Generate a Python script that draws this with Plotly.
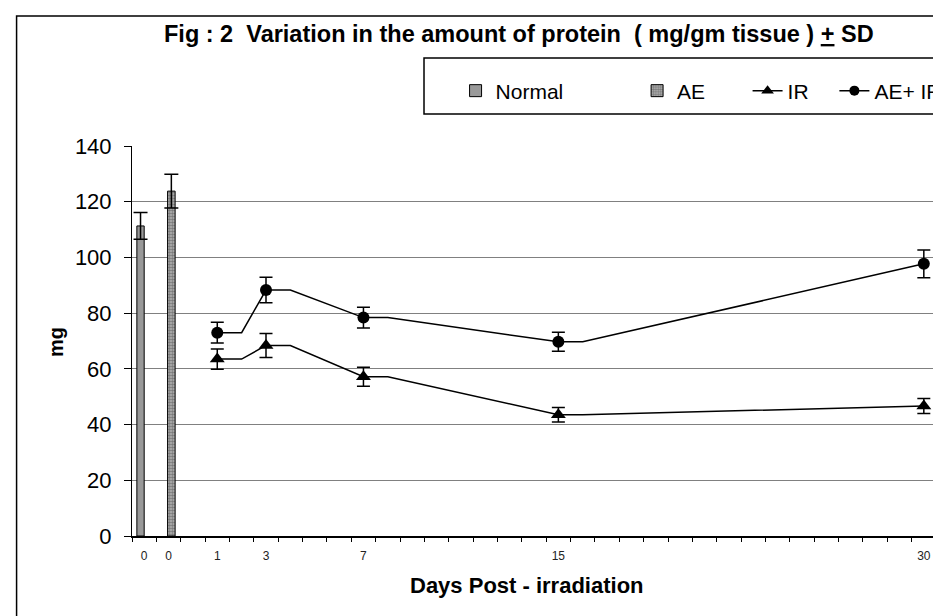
import plotly.graph_objects as go

# ---- data ----
line_days = [1, 3, 7, 15, 30]
ir_vals = [63.5, 68.4, 57.2, 43.5, 46.7]
ir_sd = [3.6, 4.3, 3.4, 2.6, 2.7]
aeir_vals = [73.0, 88.3, 78.4, 69.7, 97.7]
aeir_sd = [3.7, 4.6, 3.7, 3.4, 5.0]

normal_pos = [-2]
normal_vals = [111.3]
normal_sd = [4.8]
ae_pos = [-1]
ae_vals = [123.8]
ae_sd = [6.1]

tick_pos = [-2, -1, 1, 3, 7, 15, 30]
tick_text = ["0", "0", "1", "3", "7", "15", "30"]

FONT = "Liberation Sans, Arial, sans-serif"

# geometry helpers (pixels -> paper)
W, H = 941, 616
ML, MR, MT, MB = 124, 2, 138, 88
PW, PH = W - ML - MR, H - MT - MB
def px(x):
    return (x - ML) / PW
def py(y):
    return (H - MB - y) / PH

def stepped(days, vals):
    xs, ys = [], []
    for i, (d, v) in enumerate(zip(days, vals)):
        xs.append(d); ys.append(v)
        if i < len(days) - 1:
            xs.append(d + 1); ys.append(v)
    return xs, ys

fig = go.Figure()

fig.add_trace(go.Bar(
    x=normal_pos, y=normal_vals, name="Normal", width=0.3, offset=-0.3,
    marker=dict(color="#999999", line=dict(color="black", width=1)),
    error_y=dict(type="data", array=normal_sd, color="black", thickness=1.5, width=7),
    legend="legend", cliponaxis=False,
))
fig.add_trace(go.Bar(
    x=ae_pos, y=ae_vals, name="AE", width=0.31, offset=-0.04,
    marker=dict(color="#a8a8a8", line=dict(color="black", width=1),
                pattern=dict(shape=".", fgcolor="#404040", bgcolor="#b4b4b4", size=3, solidity=0.55)),
    error_y=dict(type="data", array=ae_sd, color="black", thickness=1.5, width=7),
    legend="legend2", cliponaxis=False,
))

for name, vals, sd, sym, size, leg in [
    ("IR", ir_vals, ir_sd, "triangle-up", 13, "legend3"),
    ("AE+ IR", aeir_vals, aeir_sd, "circle", 12, "legend4"),
]:
    sx, sy = stepped(line_days, vals)
    fig.add_trace(go.Scatter(
        x=sx, y=sy, mode="lines", line=dict(color="black", width=1.5),
        showlegend=False, hoverinfo="skip", legendgroup=name, cliponaxis=False,
    ))
    fig.add_trace(go.Scatter(
        x=line_days, y=vals, mode="markers", name=name,
        marker=dict(symbol=sym, size=size, color="black"),
        error_y=dict(type="data", array=sd, color="black", thickness=1.5, width=6.5),
        showlegend=False, legendgroup=name, cliponaxis=False,
    ))
    # legend entry (line + marker glyph), drawn only in the legend
    fig.add_trace(go.Scatter(
        x=[None], y=[None], mode="lines+markers", name=name,
        line=dict(color="black", width=1.5),
        marker=dict(symbol=sym, size=size - 2, color="black"),
        legend=leg, legendgroup=name,
    ))

leg_common = dict(orientation="h", xanchor="left", yanchor="middle",
                  bgcolor="rgba(0,0,0,0)", borderwidth=0,
                  font=dict(family=FONT, size=21, color="black"))
LEG_Y = py(83)

fig.update_layout(
    width=W, height=H,
    margin=dict(l=ML, r=MR, t=MT, b=MB),
    paper_bgcolor="white", plot_bgcolor="white",
    barmode="overlay",
    showlegend=True,
    legend=dict(x=px(452), y=LEG_Y, **leg_common),
    legend2=dict(x=px(636), y=LEG_Y, **leg_common),
    legend3=dict(x=px(748), y=LEG_Y, **leg_common),
    legend4=dict(x=px(836), y=LEG_Y, **leg_common),
    xaxis=dict(
        range=[-2.5, 30.5], tickmode="array", tickvals=tick_pos, ticktext=tick_text,
        ticks="", showgrid=False, zeroline=False,
        showline=True, linecolor="black", linewidth=1.5,
        tickfont=dict(family=FONT, size=12, color="#222"),
        ticklabelstandoff=8, ticklabeloverflow="allow",
        minor=dict(tickmode="linear", tick0=0.5, dtick=1, ticks="outside",
                   ticklen=4, tickcolor="black", tickwidth=1, showgrid=False),
    ),
    yaxis=dict(
        range=[0, 140], tickmode="linear", tick0=0, dtick=20,
        ticks="outside", ticklen=7, tickcolor="black",
        showgrid=True, gridcolor="#808080", gridwidth=1, zeroline=False,
        showline=True, linecolor="black", linewidth=1,
        tickfont=dict(family=FONT, size=22, color="black"),
        ticklabelstandoff=8,
    ),
    font=dict(family=FONT, color="black"),
)

fig.add_annotation(
    text="<b>Fig : 2  Variation in the amount of protein  ( mg/gm tissue ) <u>+</u> SD</b>",
    xref="paper", yref="paper", x=px(516), y=py(26), xanchor="center", yanchor="middle",
    showarrow=False, font=dict(family=FONT, size=23.5, color="black"),
)
fig.add_annotation(
    text="<b>Days Post - irradiation</b>",
    xref="paper", yref="paper", x=px(524), y=py(577), xanchor="center", yanchor="middle",
    showarrow=False, font=dict(family=FONT, size=22, color="black"),
)
fig.add_annotation(
    text="<b>mg</b>", textangle=-90,
    xref="paper", yref="paper", x=px(47), y=py(334), xanchor="center", yanchor="middle",
    showarrow=False, font=dict(family=FONT, size=20, color="black"),
)

# outer chart border, legend box, plot-area right edge
fig.add_shape(type="rect", xref="paper", yref="paper",
              x0=px(7), x1=px(980), y0=py(8), y1=py(660),
              line=dict(color="black", width=1.5), fillcolor="rgba(0,0,0,0)", layer="below")
fig.add_shape(type="rect", xref="paper", yref="paper",
              x0=px(420), x1=px(990), y0=py(50), y1=py(106),
              line=dict(color="black", width=1.5), fillcolor="rgba(0,0,0,0)", layer="below")
fig.add_shape(type="line", xref="paper", yref="paper", x0=1, x1=1, y0=0, y1=1,
              line=dict(color="#808080", width=1.5))

fig.write_html("out.html")
